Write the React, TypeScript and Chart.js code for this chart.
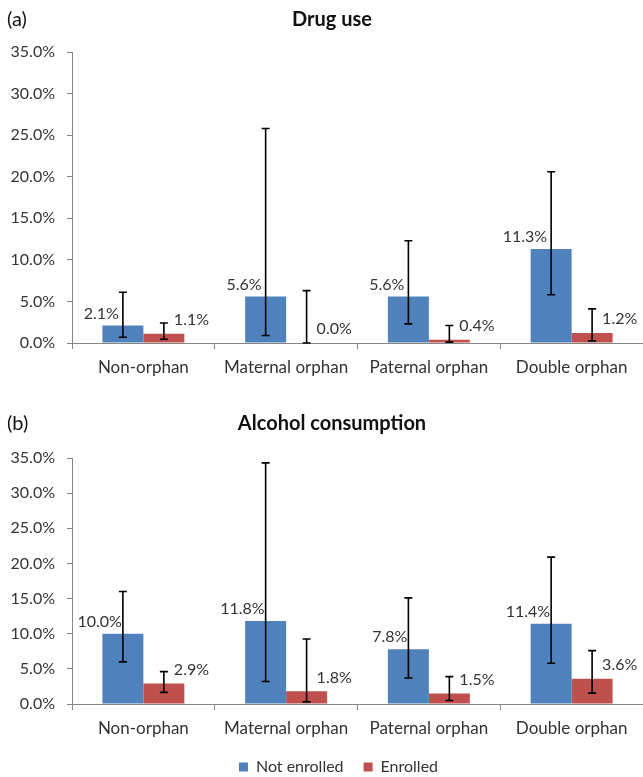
import { useEffect, useRef } from "react";
import { Chart, registerables } from "chart.js";

Chart.register(...registerables);

const categories = ["Non-orphan", "Maternal orphan", "Paternal orphan", "Double orphan"];
const seriesNames = ["Not enrolled", "Enrolled"];
const yTickMin = 0;
const yTickMax = 35;
const yTickStep = 5;

// (a) Drug use, %
const drugNotEnrolled = [2.1, 5.6, 5.6, 11.3];
const drugEnrolled = [1.1, 0.0, 0.4, 1.2];
const drugNotEnrolledLow = [0.7, 0.9, 2.3, 5.8];
const drugNotEnrolledHigh = [6.1, 25.8, 12.3, 20.6];
const drugEnrolledLow = [0.45, 0.0, 0.1, 0.25];
const drugEnrolledHigh = [2.4, 6.3, 2.1, 4.1];

// (b) Alcohol consumption, %
const alcNotEnrolled = [10.0, 11.8, 7.8, 11.4];
const alcEnrolled = [2.9, 1.8, 1.5, 3.6];
const alcNotEnrolledLow = [6.0, 3.2, 3.7, 5.8];
const alcNotEnrolledHigh = [16.0, 34.3, 15.1, 20.9];
const alcEnrolledLow = [1.65, 0.3, 0.5, 1.55];
const alcEnrolledHigh = [4.6, 9.25, 3.9, 7.6];

const BLUE = "#4F81BD";
const RED = "#C0504D";
const AXIS = "#868686";
const TEXT = "#333333";
const FONT = "Lato";

type PanelProps = {
  tag: string;
  title: string;
  ne: number[];
  en: number[];
  neLow: number[];
  neHigh: number[];
  enLow: number[];
  enHigh: number[];
  width: number;
  height: number;
  top: number;
  areaTop: number;
  areaBottom: number;
  titleY: number;
  showLegend: boolean;
  legendY: number;
  neLabelDx: number;
};

function Panel(p: PanelProps) {
  const ref = useRef<HTMLCanvasElement | null>(null);
  useEffect(() => {
    if (!ref.current) return;
    const legendPad = 20;
    const legendReserved = p.showLegend ? 10 : 0;
    const xHeight = p.height - p.areaBottom - legendReserved;

    const decorations = {
      id: "decorations",
      afterLayout(chart: any) {
        const l = chart.legend;
        if (l && p.showLegend) {
          const top = p.legendY - legendPad - 8;
          l.left += 17;
          l.right += 17;
          l.top = top;
          l.bottom = top + 16 + legendPad + 10;
        }
      },
      afterDatasetsDraw(chart: any) {
        const ctx = chart.ctx;
        const y = chart.scales.y;
        const lows = [p.neLow, p.enLow];
        const highs = [p.neHigh, p.enHigh];
        ctx.save();
        ctx.strokeStyle = "#000";
        ctx.lineWidth = 1.6;
        for (let d = 0; d < 2; d++) {
          const meta = chart.getDatasetMeta(d);
          meta.data.forEach((el: any, i: number) => {
            const x = el.x;
            const yl = y.getPixelForValue(lows[d][i]);
            const yh = y.getPixelForValue(highs[d][i]);
            ctx.beginPath();
            ctx.moveTo(x, yl);
            ctx.lineTo(x, yh);
            ctx.moveTo(x - 4, yh);
            ctx.lineTo(x + 4, yh);
            ctx.moveTo(x - 4, yl);
            ctx.lineTo(x + 4, yl);
            ctx.stroke();
          });
        }
        ctx.fillStyle = TEXT;
        ctx.font = `16px ${FONT}`;
        ctx.textBaseline = "middle";
        const vals = [p.ne, p.en];
        for (let d = 0; d < 2; d++) {
          const meta = chart.getDatasetMeta(d);
          meta.data.forEach((el: any, i: number) => {
            const txt = vals[d][i].toFixed(1) + "%";
            if (d === 0) {
              ctx.textAlign = "right";
              ctx.fillText(txt, el.x + p.neLabelDx, el.y - 12);
            } else {
              ctx.textAlign = "left";
              ctx.fillText(txt, el.x + 10, el.y - 14);
            }
          });
        }
        ctx.restore();
      },
      afterDraw(chart: any) {
        const ctx = chart.ctx;
        ctx.save();
        ctx.fillStyle = "#111";
        ctx.textBaseline = "middle";
        ctx.textAlign = "left";
        ctx.font = `20px ${FONT}`;
        ctx.fillText(p.tag, 7, p.titleY);
        ctx.textAlign = "center";
        ctx.font = `bold 20px ${FONT}`;
        ctx.fillText(p.title, 332, p.titleY);
        ctx.restore();
      },
    };

    const chart = new Chart(ref.current, {
      type: "bar",
      data: {
        labels: categories,
        datasets: [
          { label: seriesNames[0], data: p.ne, backgroundColor: BLUE, borderWidth: 0 },
          { label: seriesNames[1], data: p.en, backgroundColor: RED, borderWidth: 0 },
        ],
      },
      options: {
        responsive: false,
        animation: false,
        devicePixelRatio: 1,
        datasets: { bar: { categoryPercentage: 0.574, barPercentage: 1 } },
        layout: { padding: { top: p.areaTop, left: 0, right: 0, bottom: 0 } },
        plugins: {
          title: { display: false },
          tooltip: { enabled: false },
          legend: {
            display: p.showLegend,
            position: "bottom",
            maxHeight: legendReserved,
            labels: {
              boxWidth: 9,
              boxHeight: 9,
              padding: legendPad,
              color: TEXT,
              font: { family: FONT, size: 16 },
            },
          },
        },
        scales: {
          x: {
            grid: {
              display: true,
              drawOnChartArea: false,
              drawTicks: true,
              tickLength: 6,
              color: AXIS,
              offset: true,
            },
            border: { display: true, color: AXIS, width: 1 },
            ticks: {
              color: TEXT,
              font: { family: FONT, size: 17 },
              padding: 8,
              maxRotation: 0,
              autoSkip: false,
            },
            afterFit(scale: any) {
              scale.height = xHeight;
            },
          },
          y: {
            min: yTickMin,
            max: yTickMax,
            grid: {
              display: true,
              drawOnChartArea: false,
              drawTicks: true,
              tickLength: 5,
              color: AXIS,
            },
            border: { display: true, color: AXIS, width: 1 },
            ticks: {
              stepSize: yTickStep,
              color: TEXT,
              font: { family: FONT, size: 16 },
              padding: 12,
              callback: (v: any) => Number(v).toFixed(1) + "%",
            },
            afterFit(scale: any) {
              scale.width = 72;
            },
          },
        },
      },
      plugins: [decorations],
    } as any);
    return () => chart.destroy();
  }, []);
  return (
    <div style={{ position: "absolute", left: 0, top: p.top, width: p.width, height: p.height }}>
      <canvas ref={ref} width={p.width} height={p.height} style={{ display: "block" }} />
    </div>
  );
}

export default function App() {
  return (
    <div
      style={{
        position: "fixed",
        left: 0,
        top: 0,
        width: 643,
        height: 777,
        background: "#fff",
        overflow: "hidden",
      }}
    >
      <Panel
        tag="(a)"
        title="Drug use"
        ne={drugNotEnrolled}
        en={drugEnrolled}
        neLow={drugNotEnrolledLow}
        neHigh={drugNotEnrolledHigh}
        enLow={drugEnrolledLow}
        enHigh={drugEnrolledHigh}
        width={643}
        height={395}
        top={0}
        areaTop={52}
        areaBottom={343}
        titleY={20}
        showLegend={false}
        legendY={0}
        neLabelDx={-4}
      />
      <Panel
        tag="(b)"
        title="Alcohol consumption"
        ne={alcNotEnrolled}
        en={alcEnrolled}
        neLow={alcNotEnrolledLow}
        neHigh={alcNotEnrolledHigh}
        enLow={alcEnrolledLow}
        enHigh={alcEnrolledHigh}
        width={643}
        height={382}
        top={395}
        areaTop={63}
        areaBottom={309}
        titleY={29}
        showLegend={true}
        legendY={372}
        neLabelDx={-1}
      />
    </div>
  );
}
